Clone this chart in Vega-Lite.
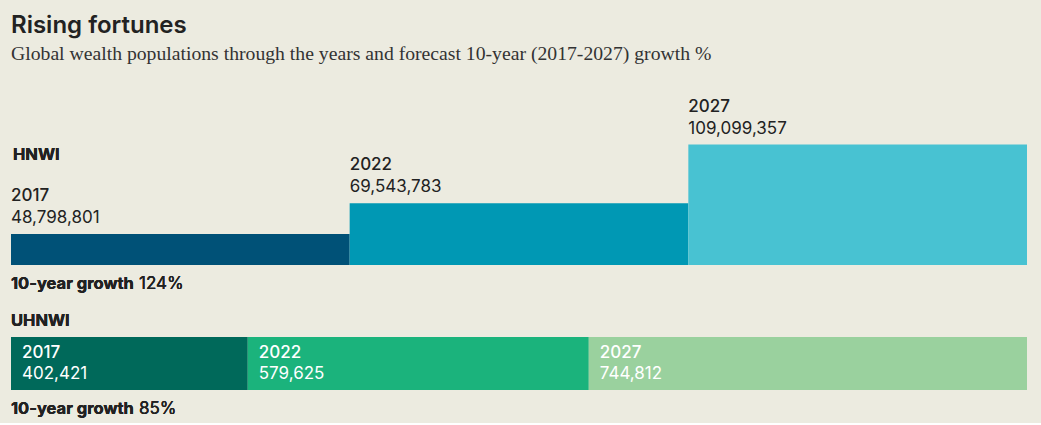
{
  "$schema": "https://vega.github.io/schema/vega-lite/v6.json",
  "background": "#ecebe0",
  "padding": {"left": 11, "top": 13, "right": 14, "bottom": 6},
  "title": {
    "text": "Rising fortunes",
    "subtitle": "Global wealth populations through the years and forecast 10-year (2017-2027) growth %",
    "anchor": "start",
    "font": "Inter",
    "fontSize": 24,
    "fontWeight": 600,
    "color": "#222222",
    "subtitleFont": "Liberation Serif",
    "subtitleFontSize": 19.7,
    "subtitleColor": "#333333",
    "subtitlePadding": 6,
    "offset": 34
  },
  "bounds": "flush",
  "spacing": 72,
  "config": {"view": {"stroke": null}, "text": {"font": "Inter", "fontSize": 17, "color": "#222222"}},
  "resolve": {"scale": {"color": "independent", "x": "independent", "y": "independent"}},
  "vconcat": [
    {
      "width": 1016,
      "height": 120,
      "data": {"values": [
        {"year": "2017", "value": 48798801},
        {"year": "2022", "value": 69543783},
        {"year": "2027", "value": 109099357}
      ]},
      "layer": [
        {
          "mark": {"type": "bar"},
          "encoding": {
            "x": {"field": "year", "type": "ordinal", "scale": {"paddingInner": 0, "paddingOuter": 0}, "axis": null},
            "y": {"field": "value", "type": "quantitative", "scale": {"domain": [28000000, 108800000], "zero": false, "nice": false}, "axis": null},
            "y2": {"datum": 28000000},
            "color": {"field": "year", "type": "nominal", "scale": {"domain": ["2017", "2022", "2027"], "range": ["#005177", "#0098b4", "#48c2d2"]}, "legend": null}
          }
        },
        {
          "mark": {"type": "text", "align": "left", "baseline": "alphabetic", "dy": -33, "fontWeight": 500},
          "encoding": {
            "x": {"field": "year", "type": "ordinal", "bandPosition": 0},
            "y": {"field": "value", "type": "quantitative"},
            "text": {"field": "year"}
          }
        },
        {
          "mark": {"type": "text", "align": "left", "baseline": "alphabetic", "dy": -11, "fontWeight": 400},
          "encoding": {
            "x": {"field": "year", "type": "ordinal", "bandPosition": 0},
            "y": {"field": "value", "type": "quantitative"},
            "text": {"field": "value", "format": ","}
          }
        },
        {
          "mark": {"type": "text", "text": "HNWI", "align": "left", "baseline": "alphabetic", "dx": 2, "dy": 15, "fontWeight": 700, "fontSize": 16.5},
          "encoding": {
            "x": {"datum": "2017", "type": "ordinal", "bandPosition": 0},
            "y": {"datum": 108800000, "type": "quantitative"}
          }
        },
        {
          "mark": {"type": "text", "text": "10-year growth", "align": "left", "baseline": "alphabetic", "dy": 24, "fontWeight": 700, "fontSize": 16.5},
          "encoding": {
            "x": {"datum": "2017", "type": "ordinal", "bandPosition": 0},
            "y": {"datum": 28000000, "type": "quantitative"}
          }
        },
        {
          "mark": {"type": "text", "text": "124%", "align": "left", "baseline": "alphabetic", "dx": 128, "dy": 24, "fontWeight": 400},
          "encoding": {
            "x": {"datum": "2017", "type": "ordinal", "bandPosition": 0},
            "y": {"datum": 28000000, "type": "quantitative"}
          }
        }
      ]
    },
    {
      "width": 1016,
      "height": 53,
      "data": {"values": [
        {"year": "2017", "value": 402421},
        {"year": "2022", "value": 579625},
        {"year": "2027", "value": 744812}
      ]},
      "transform": [
        {"stack": "value", "groupby": [], "sort": [{"field": "year", "order": "ascending"}], "as": ["x0", "x1"]}
      ],
      "layer": [
        {
          "mark": {"type": "bar"},
          "encoding": {
            "x": {"field": "x0", "type": "quantitative", "scale": {"domain": [0, 1726858], "nice": false}, "axis": null},
            "x2": {"field": "x1"},
            "y": {"datum": "UHNWI", "type": "nominal", "scale": {"paddingInner": 0, "paddingOuter": 0}, "axis": null},
            "color": {"field": "year", "type": "nominal", "scale": {"domain": ["2017", "2022", "2027"], "range": ["#00695a", "#1bb37c", "#9ad19e"]}, "legend": null}
          }
        },
        {
          "mark": {"type": "text", "align": "left", "baseline": "alphabetic", "dx": 11, "dy": -5.5, "fontWeight": 500, "color": "#ffffff"},
          "encoding": {
            "x": {"field": "x0", "type": "quantitative"},
            "text": {"field": "year"}
          }
        },
        {
          "mark": {"type": "text", "align": "left", "baseline": "alphabetic", "dx": 11, "dy": 15.5, "fontWeight": 400, "color": "#ffffff"},
          "encoding": {
            "x": {"field": "x0", "type": "quantitative"},
            "text": {"field": "value", "format": ","}
          }
        },
        {
          "mark": {"type": "text", "text": "UHNWI", "align": "left", "baseline": "alphabetic", "dy": -37.5, "fontWeight": 700, "fontSize": 16.5},
          "encoding": {
            "x": {"datum": 0, "type": "quantitative"}
          }
        },
        {
          "mark": {"type": "text", "text": "10-year growth", "align": "left", "baseline": "alphabetic", "dy": 50, "fontWeight": 700, "fontSize": 16.5},
          "encoding": {
            "x": {"datum": 0, "type": "quantitative"}
          }
        },
        {
          "mark": {"type": "text", "text": "85%", "align": "left", "baseline": "alphabetic", "dx": 128, "dy": 50, "fontWeight": 400},
          "encoding": {
            "x": {"datum": 0, "type": "quantitative"}
          }
        }
      ]
    }
  ]
}
